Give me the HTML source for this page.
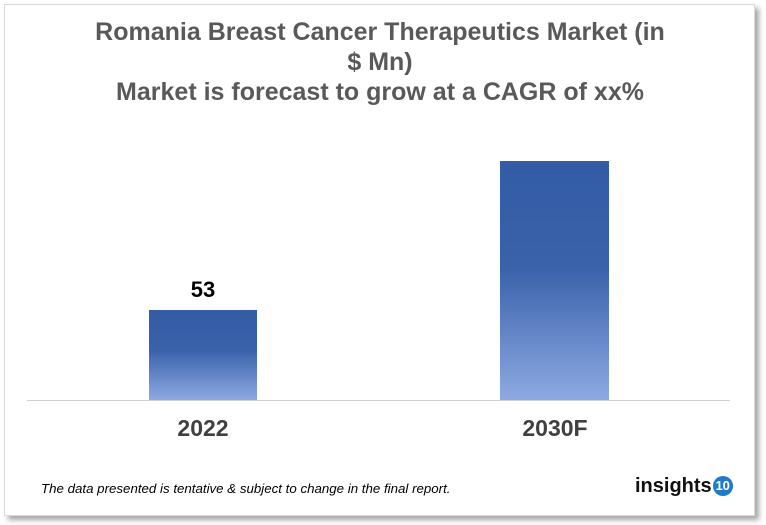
<!DOCTYPE html>
<html><head><style>
body{margin:0;width:766px;height:525px;background:#fff;overflow:hidden;font-family:"Liberation Sans",sans-serif;}
.card{position:absolute;left:4px;top:4px;width:749px;height:510px;border:1px solid #d9d9d9;background:#fff;box-shadow:4px 4px 5px rgba(0,0,0,0.35);}
.t{position:absolute;left:0;width:760px;text-align:center;color:#595959;font-weight:bold;font-size:25px;}
.bar{position:absolute;background:linear-gradient(to bottom,#335ca6 0%,#3a62ab 45%,#8ea9e2 100%);}
.lab{position:absolute;font-weight:bold;font-size:23px;color:#404040;text-align:center;width:160px;}
</style></head><body>
<div class="card"></div>
<div class="t" style="top:18px">Romania Breast Cancer Therapeutics Market (in</div>
<div class="t" style="top:48px">$ Mn)</div>
<div class="t" style="top:78px">Market is forecast to grow at a CAGR of xx%</div>
<div class="bar" style="left:149px;top:310px;width:108px;height:90px"></div>
<div class="bar" style="left:500px;top:161px;width:109px;height:239px"></div>
<div style="position:absolute;left:27px;top:400px;width:703px;height:1px;background:#d0d0d0"></div>
<div style="position:absolute;left:123px;top:277px;width:160px;text-align:center;font-weight:bold;font-size:22px;color:#000">53</div>
<div class="lab" style="left:123px;top:415px">2022</div>
<div class="lab" style="left:475px;top:415px">2030F</div>
<div style="position:absolute;left:41px;top:481px;font-style:italic;font-size:13.3px;color:#000">The data presented is tentative &amp; subject to change in the final report.</div>
<div style="position:absolute;left:635px;top:475px;font-weight:bold;font-size:20px;color:#111">insights<span style="display:inline-block;width:20px;height:20px;border-radius:50%;background:#1f7ac8;color:#fff;font-size:13px;line-height:20px;text-align:center;vertical-align:2px;margin-left:1px">10</span></div>
</body></html>
